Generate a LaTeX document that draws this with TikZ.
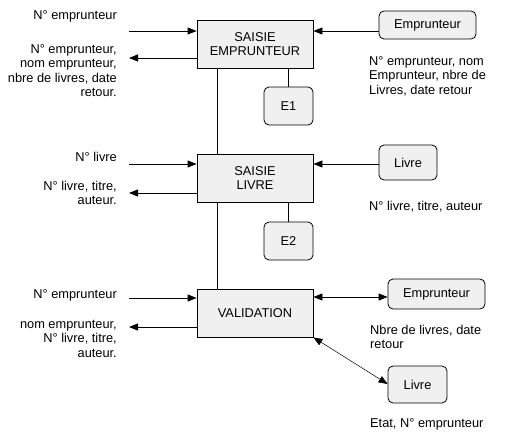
\documentclass[tikz,border=0pt]{standalone}
\usepackage{fontspec}
\setmainfont{Liberation Sans}
\usetikzlibrary{arrows.meta}
\begin{document}
\begin{tikzpicture}[x=1pt,y=-1pt,
  every node/.style={font=\fontsize{12.8}{14.5}\selectfont, inner sep=0pt},
  proc/.style={draw, line width=0.8pt, fill=black!6, minimum width=116pt, minimum height=48pt, align=center},
  ent/.style={draw, line width=0.8pt, fill=black!6, rounded corners=5pt, align=center},
  arr/.style={line width=0.8pt, -{Triangle[length=9pt,width=7pt]}},
  darr/.style={line width=0.8pt, {Triangle[length=9pt,width=7pt]}-{Triangle[length=9pt,width=7pt]}},
  lnk/.style={line width=0.8pt},
  ltxt/.style={align=right, anchor=east},
  rtxt/.style={align=left, anchor=north west}]
\useasboundingbox (0,0) rectangle (505,439);
% process boxes
\node[proc] (b1) at (255,44) {SAISIE\\EMPRUNTEUR};
\node[proc] (b2) at (255,178) {SAISIE\\LIVRE};
\node[proc] (b3) at (255,313) {VALIDATION};
% E boxes
\node[ent, minimum width=49pt, minimum height=38pt] (e1) at (288.5,106) {E1};
\node[ent, minimum width=49pt, minimum height=38pt] (e2) at (288.5,241) {E2};
% entities
\node[ent, minimum width=97pt, minimum height=28pt] (emp1) at (427.5,25) {Emprunteur};
\node[ent, minimum width=58pt, minimum height=35pt] (liv1) at (408,162.5) {Livre};
\node[ent, minimum width=97pt, minimum height=30pt] (emp2) at (436.5,294) {Emprunteur};
\node[ent, minimum width=59pt, minimum height=37pt] (liv2) at (417.5,384.5) {Livre};
% free-end coordinates
\coordinate (i1) at (129,31);
\coordinate (o1) at (129,58);
\coordinate (i2) at (129,164);
\coordinate (o2) at (129,193);
\coordinate (i3) at (129,298);
\coordinate (o3) at (129,327);
% links
\draw[lnk] (b1.south -| 217,0) -- (b2.north -| 217,0);
\draw[lnk] (b2.south -| 217,0) -- (b3.north -| 217,0);
\draw[lnk] (b1.south -| e1) -- (e1.north);
\draw[lnk] (b2.south -| e2) -- (e2.north);
% inputs / outputs
\draw[arr] (i1) -- (b1.west |- i1);
\draw[arr] (b1.west |- o1) -- (o1);
\draw[arr] (i2) -- (b2.west |- i2);
\draw[arr] (b2.west |- o2) -- (o2);
\draw[arr] (i3) -- (b3.west |- i3);
\draw[arr] (b3.west |- o3) -- (o3);
\draw[arr] (emp1.west |- i1) -- (b1.east |- i1);
\draw[arr] (liv1.west |- i2) -- (b2.east |- i2);
\draw[darr] (b3.east |- 0,297) -- (emp2.west |- 0,297);
\draw[line width=0.5pt, {Triangle[length=9pt,width=7pt]}-{Triangle[length=9pt,width=7pt]}] (b3.south east) -- (liv2.west |- 0,384);
% left texts
\node[ltxt] (t1) at (117,16) {N° emprunteur};
\node[ltxt, anchor=north east] (t2) at (117,44) {N° emprunteur,\\nom emprunteur,\\nbre de livres, date\\retour.};
\node[ltxt] (t3) at (117,157) {N° livre};
\node[ltxt, anchor=north east] (t4) at (117,181) {N° livre, titre,\\auteur.};
\node[ltxt] (t5) at (117,295) {N° emprunteur};
\node[ltxt, anchor=north east] (t6) at (117,320) {nom emprunteur,\\N° livre, titre,\\auteur.};
% right texts
\node[rtxt] (r1) at (369,56) {N° emprunteur, nom\\Emprunteur, nbre de\\Livres, date retour};
\node[rtxt] (r2) at (369,201) {N° livre, titre, auteur};
\node[rtxt] (r3) at (370,325) {Nbre de livres, date\\retour};
\node[rtxt] (r4) at (370,418) {Etat, N° emprunteur};
\end{tikzpicture}
\end{document}
